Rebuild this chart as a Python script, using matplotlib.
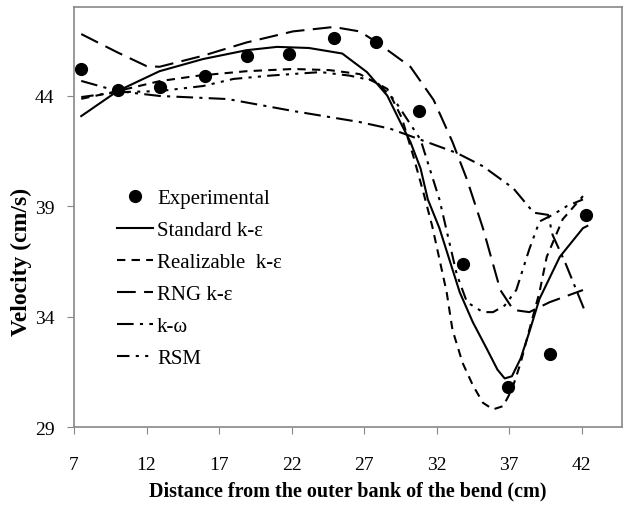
import numpy as np
import matplotlib.pyplot as plt

plt.rcParams['font.family'] = ['Liberation Serif', 'DejaVu Serif']

# ---- experimental points
x_exp = [7.5, 10.0, 12.9, 16.0, 18.9, 21.8, 24.9, 27.8, 30.8, 33.8, 36.9, 39.8, 42.3]
v_exp = [45.2, 44.25, 44.4, 44.9, 45.8, 45.9, 46.6, 46.4, 43.3, 36.4, 30.8, 32.3, 38.6]

# ---- Standard k-e (solid)
x_std = [7.5, 10.0, 12.9, 15.9, 18.9, 21.0, 23.2, 25.5, 27.2, 28.6, 29.5, 30.2, 30.9,
         31.4, 32.2, 33.6, 34.5, 35.5, 36.2, 36.7, 37.2, 37.8, 38.4, 39.1, 40.5, 42.1, 42.4]
v_std = [43.07, 44.2, 45.1, 45.65, 46.05, 46.2, 46.15, 45.9, 45.06, 44.0, 42.8, 41.9, 40.7,
         39.3, 38.0, 35.1, 33.75, 32.5, 31.6, 31.2, 31.3, 32.1, 33.3, 34.8, 36.7, 38.0, 38.1]

# ---- Realizable k-e (short dashes)
x_real = [7.5, 10.0, 12.9, 15.6, 18.9, 22.1, 24.6, 26.7, 28.6, 29.6, 30.4, 31.1, 31.7, 32.2,
          32.7, 33.1, 33.8, 34.5, 35.2, 35.9, 36.6, 37.2, 37.8, 38.4, 39.1, 39.6, 40.7, 42.1]
v_real = [43.85, 44.2, 44.65, 44.9, 45.1, 45.2, 45.15, 44.97, 44.3, 43.0, 41.26, 39.6, 38.1, 36.6,
          35.1, 33.4, 31.9, 30.9, 30.1, 29.8, 29.95, 30.7, 31.9, 33.4, 35.1, 36.7, 38.4, 39.45]

# ---- RNG k-e (long dashes)
x_rng = [7.5, 10.0, 12.0, 12.9, 15.9, 18.9, 22.1, 24.9, 26.7, 27.9, 30.2, 31.8, 33.1, 34.1,
         35.2, 36.4, 37.3, 38.4, 39.8, 42.1]
v_rng = [46.78, 45.95, 45.33, 45.3, 45.8, 46.4, 46.9, 47.1, 46.9, 46.4, 45.3, 43.8, 41.9, 40.2,
         38.0, 35.2, 34.3, 34.2, 34.65, 35.2]

# ---- k-w (dash-dot)
x_kw = [7.5, 10.0, 12.9, 17.6, 22.1, 26.7, 28.8, 30.9, 33.4, 35.2, 37.3, 38.7, 39.7, 40.0,
        40.9, 42.2]
v_kw = [44.66, 44.2, 43.98, 43.84, 43.3, 42.8, 42.5, 42.0, 41.4, 40.8, 39.8, 38.7, 38.6, 37.7,
        36.4, 34.3]

# ---- RSM (dash-dot-dot)
x_rsm = [7.5, 10.0, 12.9, 15.9, 18.0, 20.5, 24.0, 26.0, 27.8, 29.1, 30.9, 32.2, 33.4, 34.1,
         35.2, 35.9, 36.7, 37.5, 38.4, 39.1, 40.0, 41.0, 42.1]
v_rsm = [43.93, 44.15, 44.2, 44.43, 44.75, 44.9, 45.06, 44.9, 44.65, 43.8, 42.0, 39.3, 35.9, 34.65,
         34.2, 34.2, 34.5, 35.2, 37.05, 38.3, 38.6, 39.0, 39.3]

x_ticks = [7, 12, 17, 22, 27, 32, 37, 42]
y_ticks = [29, 34, 39, 44]

fig = plt.figure(figsize=(6.25, 5.06), dpi=100)
ax = fig.add_axes([0.1184, 0.154, 0.877, 0.830])

lw = 1.5
ax.plot(x_exp, v_exp, 'o', color='black', markersize=8.5, label='Experimental')
ax.plot(x_std, v_std, '-', color='black', lw=lw, label='Standard k-\u03b5')
ax.plot(x_real, v_real, color='black', lw=lw, dashes=(4, 3), label='Realizable  k-\u03b5')
ax.plot(x_rng, v_rng, color='black', lw=lw, dashes=(9, 4), label='RNG k-\u03b5')
ax.plot(x_kw, v_kw, color='black', lw=lw, dashes=(8, 3, 1.5, 3), label='k-\u03c9')
ax.plot(x_rsm, v_rsm, color='black', lw=lw, dashes=(6, 3, 1.5, 3, 1.5, 3), label='RSM')

ax.set_xlim(7, 44.8)
ax.set_ylim(29, 48)
ax.set_xticks(x_ticks)
ax.set_yticks(y_ticks)
ax.tick_params(direction='out', length=5, color='#888888', labelsize=14)
ax.tick_params(axis='x', pad=16)
ax.tick_params(axis='y', pad=9)
for s in ax.spines.values():
    s.set_color('#888888')
    s.set_linewidth(1.2)

ax.set_xlabel('Distance from the outer bank of the bend (cm)', fontsize=14.5, fontweight='bold', labelpad=5)
ax.set_ylabel('Velocity (cm/s)', fontsize=17, fontweight='bold')
ax.yaxis.set_label_coords(-0.076, 0.395)

ax.legend(loc='upper left', bbox_to_anchor=(0.064, 0.588), frameon=False, fontsize=15,
          handlelength=1.7, handletextpad=0.2, labelspacing=0.6, borderaxespad=0)

fig.savefig('out.png', dpi=100)
